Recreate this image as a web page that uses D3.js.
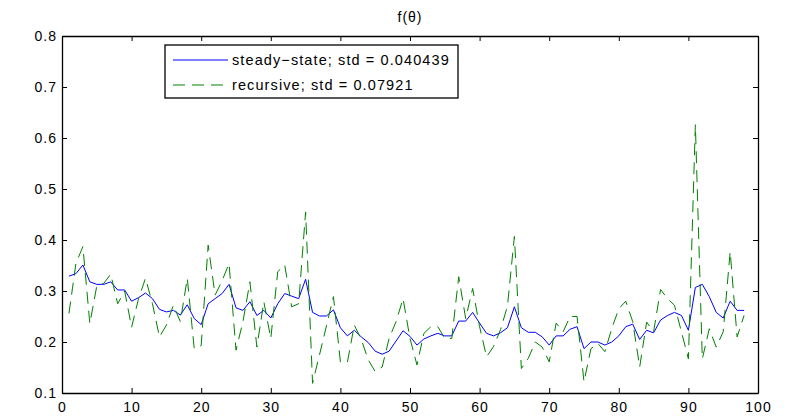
<!DOCTYPE html>
<html>
<head>
<meta charset="utf-8">
<script src="https://cdn.jsdelivr.net/npm/d3@7"></script>
<style>
    body { margin: 0; background: #fff; }
    #chart-area { width: 794px; height: 420px; }
    .axis text { font-family: "Liberation Sans", Arial, sans-serif; font-size: 14px; letter-spacing: 1px; fill: #000; }
    .axis path, .axis line { stroke: #000; }
</style>
</head>
<body>
<div id="chart-area"></div>
<script>

// sample index 1..98
let steadyState = [0.329, 0.334, 0.351, 0.318, 0.313, 0.313, 0.318, 0.302, 0.302, 0.280,
    0.287, 0.296, 0.285, 0.264, 0.259, 0.262, 0.253, 0.273, 0.246, 0.234,
    0.275, 0.285, 0.295, 0.313, 0.267, 0.262, 0.279, 0.252, 0.262, 0.247,
    0.275, 0.295, 0.290, 0.285, 0.323, 0.258, 0.251, 0.251, 0.263, 0.228,
    0.212, 0.223, 0.210, 0.199, 0.182, 0.176, 0.182, 0.202, 0.222, 0.211,
    0.194, 0.206, 0.212, 0.217, 0.212, 0.212, 0.241, 0.241, 0.258, 0.237,
    0.217, 0.212, 0.218, 0.228, 0.269, 0.228, 0.219, 0.219, 0.210, 0.194,
    0.212, 0.212, 0.225, 0.230, 0.187, 0.200, 0.200, 0.194, 0.200, 0.212,
    0.230, 0.235, 0.205, 0.223, 0.218, 0.243, 0.252, 0.258, 0.252, 0.223,
    0.307, 0.313, 0.289, 0.258, 0.247, 0.280, 0.262, 0.262];

let recursive = [0.256, 0.354, 0.387, 0.236, 0.310, 0.315, 0.333, 0.275, 0.300, 0.229,
    0.285, 0.325, 0.275, 0.210, 0.233, 0.272, 0.240, 0.325, 0.187, 0.193,
    0.390, 0.292, 0.320, 0.354, 0.184, 0.240, 0.318, 0.190, 0.279, 0.207,
    0.338, 0.351, 0.269, 0.275, 0.455, 0.119, 0.175, 0.232, 0.289, 0.161,
    0.160, 0.233, 0.205, 0.165, 0.142, 0.151, 0.207, 0.240, 0.285, 0.207,
    0.155, 0.217, 0.230, 0.230, 0.207, 0.207, 0.328, 0.246, 0.305, 0.230,
    0.171, 0.191, 0.224, 0.270, 0.407, 0.148, 0.168, 0.200, 0.190, 0.161,
    0.237, 0.220, 0.250, 0.250, 0.122, 0.187, 0.197, 0.181, 0.227, 0.265,
    0.280, 0.240, 0.151, 0.239, 0.220, 0.303, 0.285, 0.272, 0.220, 0.167,
    0.626, 0.167, 0.226, 0.190, 0.220, 0.377, 0.210, 0.252];

let xTicks = [0, 10, 20, 30, 40, 50, 60, 70, 80, 90, 100];
let yTicks = [0.1, 0.2, 0.3, 0.4, 0.5, 0.6, 0.7, 0.8];

let seriesNames = ["steady\u2212state; std = 0.040439", "recursive; std = 0.07921"];
let chartTitle = "f(\u03b8)";


class LineVis {

    constructor(parentElement, series) {
        this.parentElement = parentElement;
        this.series = series;
        this.initVis();
    }

    initVis() {
        let vis = this;

        vis.margin = {top: 36, right: 36, bottom: 27, left: 62};
        vis.width = 794 - vis.margin.left - vis.margin.right;
        vis.height = 420 - vis.margin.top - vis.margin.bottom;

        vis.svg = d3.select("#" + vis.parentElement).append("svg")
            .attr("width", 794)
            .attr("height", 420)
            .append("g")
            .attr("transform", `translate(${vis.margin.left}, ${vis.margin.top})`);

        vis.x = d3.scaleLinear().domain([0, 100]).range([0, vis.width]);
        vis.y = d3.scaleLinear().domain([0.1, 0.8]).range([vis.height, 0]);

        // title
        vis.svg.append("text")
            .attr("x", vis.width / 2)
            .attr("y", -14)
            .attr("text-anchor", "middle")
            .attr("font-family", "Liberation Sans, Arial, sans-serif")
            .attr("font-size", "14px")
            .attr("letter-spacing", "1px")
            .text(chartTitle);

        // axes, ticks pointing inward like matlab
        let fmt = d3.format(".1f");
        vis.svg.append("g")
            .attr("class", "axis")
            .attr("transform", `translate(0, ${vis.height})`)
            .call(d3.axisBottom(vis.x).tickValues(xTicks).tickSizeInner(-5).tickSizeOuter(0).tickPadding(9));
        vis.svg.append("g")
            .attr("class", "axis")
            .call(d3.axisTop(vis.x).tickValues(xTicks).tickSizeInner(-5).tickSizeOuter(0).tickFormat(""));
        vis.svg.append("g")
            .attr("class", "axis")
            .call(d3.axisLeft(vis.y).tickValues(yTicks).tickFormat(fmt).tickSizeInner(-5).tickSizeOuter(0).tickPadding(5));
        vis.svg.append("g")
            .attr("class", "axis")
            .attr("transform", `translate(${vis.width}, 0)`)
            .call(d3.axisRight(vis.y).tickValues(yTicks).tickSizeInner(-5).tickSizeOuter(0).tickFormat(""));

        vis.svg.selectAll(".axis .domain").attr("stroke-width", 1.3);

        vis.line = d3.line()
            .x((d, i) => vis.x(i + 1))
            .y(d => vis.y(d));

        vis.svg.selectAll(".series")
            .data(vis.series)
            .enter().append("path")
            .attr("class", "series")
            .attr("fill", "none")
            .attr("stroke", d => d.color)
            .attr("stroke-width", 1)
            .attr("stroke-dasharray", d => d.dash)
            .attr("d", d => vis.line(d.values));

        // legend
        let legend = vis.svg.append("g")
            .attr("transform", `translate(${165 - vis.margin.left}, ${45 - vis.margin.top})`);
        legend.append("rect")
            .attr("width", 293)
            .attr("height", 53)
            .attr("fill", "#fff")
            .attr("stroke", "#000")
            .attr("stroke-width", 1.3);

        let rows = legend.selectAll(".legend-row")
            .data(vis.series)
            .enter().append("g")
            .attr("class", "legend-row")
            .attr("transform", (d, i) => `translate(0, ${15 + i * 25})`);
        rows.append("line")
            .attr("x1", 8).attr("x2", 63)
            .attr("stroke", d => d.color)
            .attr("stroke-dasharray", d => d.dash);
        rows.append("text")
            .attr("x", 67)
            .attr("dy", "0.35em")
            .attr("font-family", "Liberation Sans, Arial, sans-serif")
            .attr("font-size", "14.5px")
            .attr("letter-spacing", "1.1px")
            .text(d => d.name);
    }
}

new LineVis("chart-area", [
    {name: seriesNames[0], values: steadyState, color: "#0000ff", dash: null},
    {name: seriesNames[1], values: recursive, color: "#008000", dash: "12,7"}
]);

</script>
</body>
</html>
